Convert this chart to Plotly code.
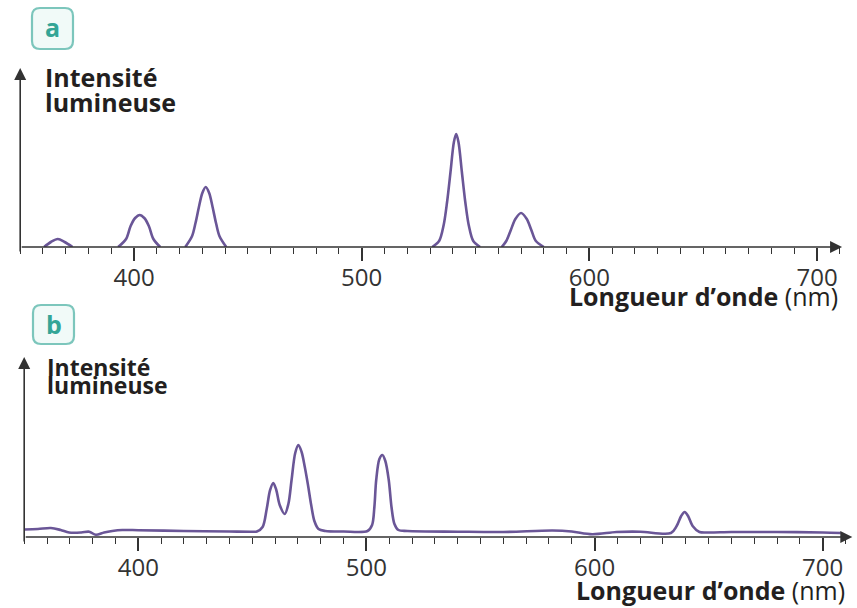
import plotly.graph_objects as go

W, H = 857, 608

# ---- Spectre a : raies isolées (longueur d'onde en nm, intensité en u.a.) ----
wl_a = [
    360.5, 363.5, 366.5, 369.5, 373.0, None,
    393.0, 396.5, 398.5, 400.5, 402.5, 404.5, 406.5, 408.5, 411.5, None,
    422.5, 425.5, 427.0, 428.5, 430.0, 431.5, 433.0, 434.5, 436.0, 437.5, 440.5, None,
    531.0, 534.0, 536.0, 537.5, 539.0, 540.5, 541.5, 542.5, 544.0, 545.5, 547.0, 549.0, 552.0, None,
    561.5, 563.5, 565.5, 567.5, 570.0, 572.5, 574.5, 576.5, 580.0,
]
int_a = [
    0, 5, 8, 5, 0, None,
    0, 8, 21, 29, 32, 29, 21, 8, 0, None,
    0, 11, 24, 40, 54, 60, 54, 40, 24, 11, 0, None,
    0, 6, 22, 45, 75, 105, 113, 105, 75, 45, 22, 6, 0, None,
    0, 6, 17, 28, 34, 28, 17, 6, 0,
]

# ---- Spectre b : spectre continu avec fond ----
wl_b = [
    350, 356, 361.7, 366, 369.7, 375, 378.5, 381.4, 385, 388.6, 393, 400, 420, 440, 450,
    452, 454.5, 456.3, 457.8, 459.2, 460.5, 462, 464.2, 465.8, 467.2, 468.8, 470.2,
    471.6, 473.0, 474.4, 475.8, 477.2, 479.0, 482, 490,
    500.5, 502.5, 503.5, 504.3, 505.7, 507, 508.3, 509.8, 511, 512.3, 514, 518,
    540, 560, 581.6, 590, 599, 609.6, 620, 633.5, 636, 638, 639.5, 641, 643, 646, 650,
    660, 680, 700, 708,
]
int_b = [
    7.5, 8, 9, 7, 4.5, 4.5, 5.3, 2.2, 4.5, 6, 7, 6.8, 6, 5.5, 5.3,
    5.5, 10, 28, 47, 54, 47, 32, 23, 33, 57, 84, 92,
    85, 70, 52, 32, 16, 8, 6, 5.5,
    6, 12, 30, 57, 78, 82, 76, 57, 30, 13, 7, 6,
    5.3, 5, 6.5, 5.5, 2.8, 5, 5.3, 4, 11, 21, 25, 21, 11, 5, 4.5,
    5, 5, 4.5, 4,
]

major_ticks = [400, 500, 600, 700]
x_label = "<b>Longueur d’onde</b> (nm)"
y_label = ["Intensité", "lumineuse"]

LINE = "#6a5697"
AXIS = "#333333"
TXT = "#231f20"
FONT = "Open Sans"


def px(x):
    return x / W


def py(y):
    return 1 - y / H


fig = go.Figure()
fig.add_trace(go.Scatter(x=wl_a, y=int_a, mode="lines", xaxis="x", yaxis="y",
                         line=dict(color=LINE, width=2.6, shape="spline", smoothing=0.9),
                         connectgaps=False, hoverinfo="skip"))
fig.add_trace(go.Scatter(x=wl_b, y=int_b, mode="lines", xaxis="x2", yaxis="y2",
                         line=dict(color=LINE, width=2.6, shape="spline", smoothing=0.9),
                         hoverinfo="skip"))


def xaxis_style(left_px, right_px, xmax):
    return dict(
        domain=[px(left_px), px(right_px)], range=[350, xmax],
        showgrid=False, zeroline=False, showline=False,
        tickmode="array", tickvals=major_ticks, ticktext=[str(v) for v in major_ticks],
        ticks="outside", ticklen=13, tickwidth=2, tickcolor=AXIS,
        tickfont=dict(family=FONT, size=24, color="#333333"),
        ticklabelstandoff=-4,
        minor=dict(ticks="outside", ticklen=6, tickwidth=1.4, tickcolor=AXIS,
                   dtick=10, tick0=350),
        fixedrange=True,
    )


def yaxis_style(bottom_px, top_px, anchor):
    return dict(domain=[py(bottom_px), py(top_px)], range=[0, bottom_px - top_px],
                visible=False, anchor=anchor, fixedrange=True)


# panel a: 350 nm at x=20.2 px, 2.2767 px/nm ; panel b: 350 nm at x=24.2 px, 2.2813 px/nm
xa_max, xb_max = 711, 713
fig.update_layout(
    xaxis=dict(**xaxis_style(20.2, 20.2 + (xa_max - 350) * 2.2767, xa_max), anchor="y"),
    yaxis=yaxis_style(247, 68, "x"),
    xaxis2=dict(**xaxis_style(24.2, 24.2 + (xb_max - 350) * 2.2813, xb_max), anchor="y2"),
    yaxis2=yaxis_style(537, 357, "x2"),
)

annotations = []
shapes = []


def axis_arrows(xr, yr, xmax, ymax):
    arrow = dict(text="", showarrow=True, arrowhead=2, arrowsize=1.5, arrowwidth=1.6,
                 arrowcolor=AXIS, standoff=0, startstandoff=0,
                 xref=xr, yref=yr, axref=xr, ayref=yr)
    annotations.append(dict(arrow, x=xmax, y=0, ax=350, ay=0))
    annotations.append(dict(arrow, x=350, y=ymax, ax=350, ay=-6))


axis_arrows("x", "y", xa_max, 247 - 68)
axis_arrows("x2", "y2", xb_max, 537 - 357)


def text(x, y, s, size, xanchor="left", bold=False, color=TXT):
    annotations.append(dict(
        x=px(x), y=py(y), xref="paper", yref="paper", text=f"<b>{s}</b>" if bold else s,
        showarrow=False, xanchor=xanchor, yanchor="middle",
        font=dict(family=FONT, size=size, color=color)))


# intensity labels
text(43, 77, y_label[0], 25, bold=True)
text(43, 102, y_label[1], 25, bold=True)
text(45, 367, y_label[0], 23, bold=True)
text(45, 385, y_label[1], 23, bold=True)

# wavelength titles
text(840, 296, x_label, 25, xanchor="right")
text(847, 590, x_label, 25, xanchor="right")


def badge(x0, y0, x1, y1, letter):
    r = 8
    X0, X1 = px(x0), px(x1)
    Y0, Y1 = py(y0), py(y1)
    rx, ry = r / W, r / H
    path = (f"M {X0 + rx} {Y0} L {X1 - rx} {Y0} Q {X1} {Y0} {X1} {Y0 - ry} "
            f"L {X1} {Y1 + ry} Q {X1} {Y1} {X1 - rx} {Y1} L {X0 + rx} {Y1} "
            f"Q {X0} {Y1} {X0} {Y1 + ry} L {X0} {Y0 - ry} Q {X0} {Y0} {X0 + rx} {Y0} Z")
    shapes.append(dict(type="path", path=path, xref="paper", yref="paper",
                       line=dict(color="#7cc6bc", width=2.2), fillcolor="#f1faf8", layer="below"))
    text((x0 + x1) / 2, (y0 + y1) / 2 - 1, letter, 25, xanchor="center", bold=True, color="#34a596")


badge(32, 8, 73, 49, "a")
badge(33, 305, 74, 344, "b")

fig.update_layout(
    width=W, height=H, margin=dict(l=0, r=0, t=0, b=0),
    paper_bgcolor="white", plot_bgcolor="white", showlegend=False,
    annotations=annotations, shapes=shapes,
)

fig.write_html("out.html")
